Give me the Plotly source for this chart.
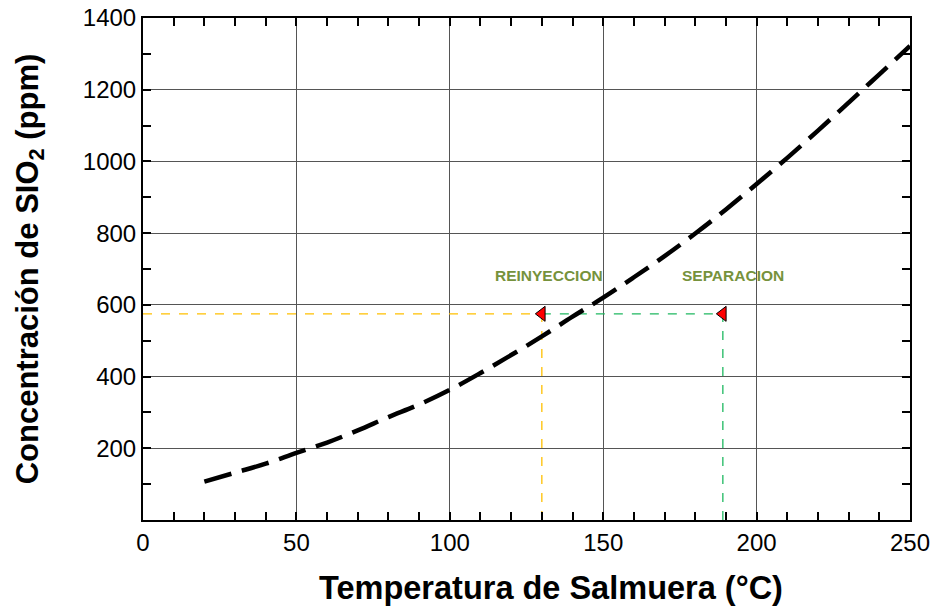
import plotly.graph_objects as go

# Silica solubility curve (ppm) vs brine temperature (°C)
temp_c = [20, 30, 40, 50, 60, 70, 80, 90, 100, 110, 120, 130, 140, 150,
          160, 170, 180, 190, 200, 210, 220, 230, 240, 250]
sio2_ppm = [107, 132, 157, 187, 216, 250, 287, 322, 363, 410, 460, 512, 567, 620,
            677, 736, 799, 866, 937, 1010, 1086, 1164, 1243, 1322]

# Operating points
reinj_temp = 130
sep_temp = 189
sio2_level = 575
point_labels = ["REINYECCION", "SEPARACION"]
label_x = [132.3, 192.4]
label_y = 682

y_ticks = [200, 400, 600, 800, 1000, 1200, 1400]
x_ticks = [0, 50, 100, 150, 200, 250]

FONT = "Liberation Sans, Arial"
YELLOW = "#ffc000"
GREEN = "#1fb860"

fig = go.Figure()

# yellow reference lines (reinjection)
fig.add_trace(go.Scatter(x=[0, reinj_temp], y=[sio2_level, sio2_level], mode="lines",
                         line=dict(color=YELLOW, width=1.3, dash="dash"), hoverinfo="skip"))
fig.add_trace(go.Scatter(x=[reinj_temp, reinj_temp], y=[0, sio2_level], mode="lines",
                         line=dict(color=YELLOW, width=1.3, dash="dash"), hoverinfo="skip"))
# green reference lines (separation)
fig.add_trace(go.Scatter(x=[reinj_temp, sep_temp], y=[sio2_level, sio2_level], mode="lines",
                         line=dict(color=GREEN, width=1.3, dash="dash"), hoverinfo="skip"))
fig.add_trace(go.Scatter(x=[sep_temp, sep_temp], y=[0, sio2_level], mode="lines",
                         line=dict(color=GREEN, width=1.3, dash="dash"), hoverinfo="skip"))

# solubility curve
fig.add_trace(go.Scatter(x=temp_c, y=sio2_ppm, mode="lines", line_shape="spline",
                         line=dict(color="black", width=4.5, dash="28px,11px")))

# operating point markers
fig.add_trace(go.Scatter(x=[reinj_temp, sep_temp], y=[sio2_level, sio2_level], mode="markers",
                         marker=dict(symbol="triangle-left", size=13, color="red",
                                     line=dict(color="black", width=1))))

# labels
for lx, txt in zip(label_x, point_labels):
    fig.add_annotation(x=lx, y=label_y, text="<b>%s</b>" % txt, showarrow=False,
                       font=dict(family=FONT, size=15.5, color="#76923c"))

# x-axis title
fig.add_annotation(xref="paper", yref="paper", x=0.5318, y=0, yshift=-68,
                   xanchor="center", yanchor="middle", showarrow=False,
                   text="<b>Temperatura de Salmuera (°C)</b>",
                   font=dict(family=FONT, size=32.5, color="black"))

axis_common = dict(
    showline=True, linecolor="black", linewidth=2, mirror="ticks",
    ticks="inside", ticklen=8, tickwidth=2, tickcolor="black",
    showgrid=True, gridcolor="#555555", gridwidth=1, zeroline=False,
    tickfont=dict(family=FONT, size=24, color="black"),
    automargin=False,
)

fig.update_xaxes(range=[0, 250], tickvals=x_ticks,
                 minor=dict(dtick=10, ticks="inside", ticklen=8, tickwidth=2,
                            tickcolor="black", showgrid=False),
                 **axis_common)
fig.update_yaxes(range=[0, 1400], tickvals=y_ticks,
                 minor=dict(tick0=0, dtick=100, ticks="inside", ticklen=8, tickwidth=2,
                            tickcolor="black", showgrid=False),
                 title=dict(text="<b>Concentración de SIO<sub>2</sub> (ppm)</b>",
                            font=dict(family=FONT, size=31, color="black"),
                            standoff=35),
                 **axis_common)

fig.update_layout(
    width=932, height=607,
    margin=dict(l=143, r=22, t=18, b=87),
    paper_bgcolor="white", plot_bgcolor="white",
    showlegend=False,
)

fig.write_html("out.html")
